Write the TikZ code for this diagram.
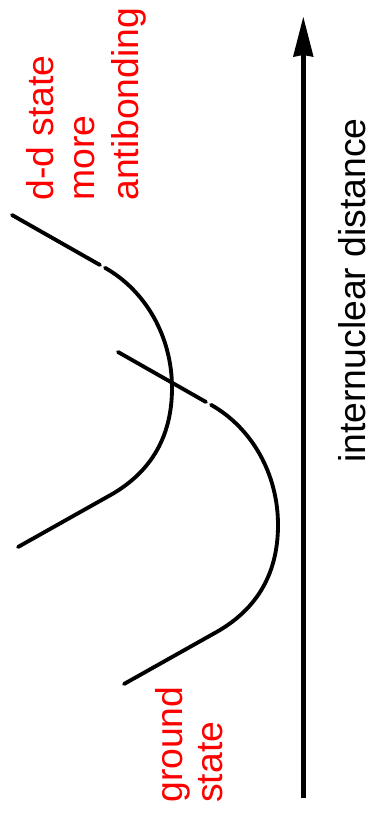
\documentclass[tikz,border=0pt]{standalone}
\usepackage{fontspec}
\setmainfont{Liberation Sans}
\usetikzlibrary{arrows.meta}
\begin{document}
\begin{tikzpicture}[x=0.75pt,y=-0.75pt,
  curve/.style={line width=2.9pt, line cap=round, line join=round},
  axis/.style={line width=3.6pt, -{Stealth[length=30pt, width=15.5pt, inset=1.5pt, line width=0pt]}},
  lbl/.style={rotate=90, anchor=base west, inner sep=0pt, font=\fontsize{28}{32}\selectfont},
  redlbl/.style={lbl, text=red}]
\useasboundingbox (0,0) rectangle (374,821);
% potential curves
\foreach \dx/\dy in {0/0,106/137}{
  \begin{scope}[shift={(\dx,\dy)}]
    \draw[curve] (12,215) -- (100,265);
    \draw[curve] (105,267.8) .. controls (146,291) and (172,337) .. (172,388)
      .. controls (172,440) and (148,475) .. (107,497) -- (18,547);
  \end{scope}
}
% axis
\coordinate (abot) at (303.3,797.5);
\coordinate (atop) at (303.3,17);
\draw[axis] (abot) -- (atop);
% labels
\node[redlbl] (dd) at (53.3,201) {d-d state};
\node[redlbl] (more) at (94.5,201) {more};
\node[redlbl] (anti) at (138,201) {antibonding};
\node[redlbl] (gr) at (182,803) {ground};
\node[redlbl] (st) at (222,803) {state};
\node[lbl] (dist) at (365,463) {internuclear distance};
\end{tikzpicture}
\end{document}
